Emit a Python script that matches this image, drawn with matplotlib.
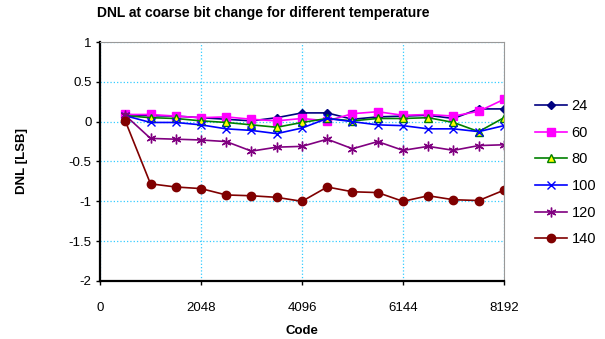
import matplotlib.pyplot as plt

plt.rcParams['font.family'] = ['Liberation Sans', 'DejaVu Sans']

# code positions of the coarse bit transitions
code = [512, 1024, 1536, 2048, 2560, 3072, 3584, 4096,
        4608, 5120, 5632, 6144, 6656, 7168, 7680, 8192]

temps = ['24', '60', '80', '100', '120', '140']

dnl_24 = [0.09, 0.075, 0.07, 0.05, 0.03, 0.01, 0.05, 0.11,
          0.11, 0.03, 0.06, 0.07, 0.08, 0.04, 0.16, 0.16]
dnl_60 = [0.09, 0.09, 0.07, 0.05, 0.06, 0.03, 0.01, 0.04,
          0.01, 0.10, 0.125, 0.08, 0.09, 0.07, 0.13, 0.28]
dnl_80 = [0.075, 0.05, 0.04, 0.01, -0.01, -0.04, -0.07, -0.01,
          0.04, 0.01, 0.04, 0.04, 0.05, -0.01, -0.125, 0.05]
dnl_100 = [0.075, -0.01, -0.01, -0.04, -0.09, -0.11, -0.15, -0.08,
           0.04, 0.0, -0.04, -0.05, -0.09, -0.09, -0.125, -0.05]
dnl_120 = [0.08, -0.21, -0.22, -0.23, -0.25, -0.37, -0.32, -0.31,
           -0.22, -0.34, -0.25, -0.36, -0.31, -0.36, -0.30, -0.29]
dnl_140 = [0.01, -0.78, -0.82, -0.84, -0.92, -0.93, -0.95, -1.0,
           -0.82, -0.88, -0.89, -1.0, -0.93, -0.98, -0.99, -0.86]

series = [dnl_24, dnl_60, dnl_80, dnl_100, dnl_120, dnl_140]
styles = [
    dict(color='#000080', marker='D', ms=4.5, mfc='#000080', mec='#000080'),
    dict(color='#FF00FF', marker='s', ms=6, mfc='#FF00FF', mec='#FF00FF'),
    dict(color='#008000', marker='^', ms=6, mfc='#FFFF00', mec='#008000', mew=1.0),
    dict(color='#0000FF', marker='x', ms=6, mfc='none', mec='#0000FF', mew=1.0),
    dict(color='#800080', marker=(6, 2, 0), ms=7, mec='#800080', mew=1.0),
    dict(color='#800000', marker='o', ms=6, mfc='#800000', mec='#800000'),
]

fig = plt.figure(figsize=(6.05, 3.39), dpi=100)
ax = fig.add_axes([0.1653, 0.1711, 0.6677, 0.7050])

for vals, lab, st in zip(series, temps, styles):
    ax.plot(code, vals, lw=1.2, label=lab, **st)

ax.set_xlim(0, 8192)
ax.set_ylim(-2, 1)
ax.set_xticks([0, 2048, 4096, 6144, 8192])
ax.set_yticks([-2, -1.5, -1, -0.5, 0, 0.5, 1])
ax.set_yticklabels(['-2', '-1.5', '-1', '-0.5', '0', '0.5', '1'])
ax.tick_params(direction='out', length=3, width=1, labelsize=9.5, pad=3)
ax.tick_params(axis='x', pad=12)

ax.grid(True, color='#33CCFF', linestyle=':', linewidth=0.9)
ax.set_axisbelow(True)
for side in ['left', 'bottom']:
    ax.spines[side].set_color('black')
    ax.spines[side].set_linewidth(1.6)
for side in ['top', 'right']:
    ax.spines[side].set_color('#999999')
    ax.spines[side].set_linewidth(0.8)

fig.text(0.435, 1 - 13 / 339, 'DNL at coarse bit change for different temperature',
         ha='center', va='center', fontsize=10, fontweight='bold')
ax.set_xlabel('Code', fontsize=9.5, fontweight='bold', labelpad=8)
ax.set_ylabel('DNL [LSB]', fontsize=9.5, fontweight='bold', labelpad=29)

ax.legend(loc='upper left', bbox_to_anchor=(0.875, 0.725),
          bbox_transform=fig.transFigure, frameon=False, numpoints=1,
          handlelength=2.2, handletextpad=0.3, labelspacing=0.87,
          fontsize=10.5, borderaxespad=0)

fig.savefig('out.png', dpi=100)
